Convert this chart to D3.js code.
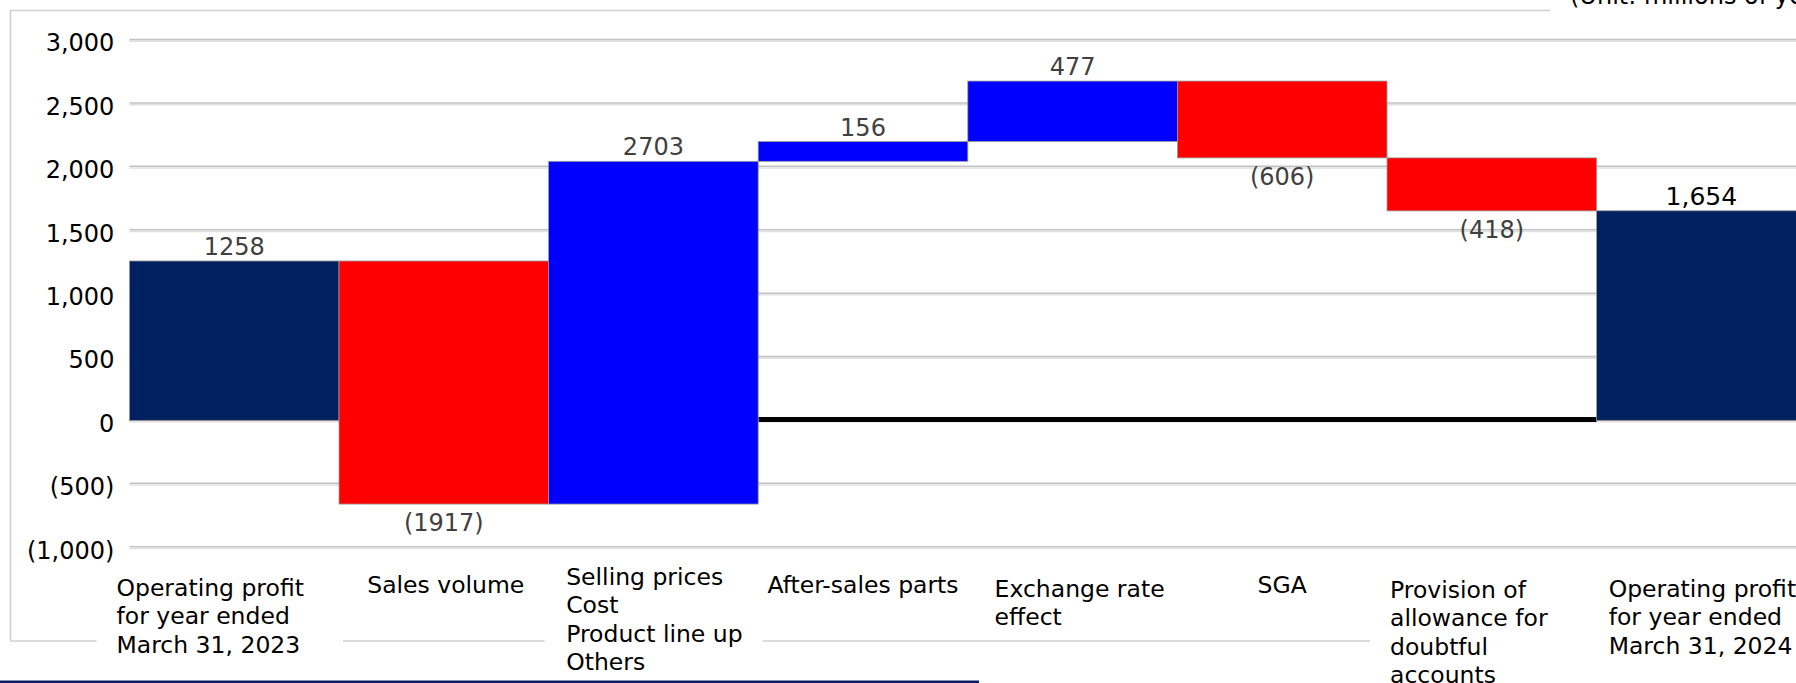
<!DOCTYPE html>
<html>
<head>
<meta charset="utf-8">
<script src="https://cdn.jsdelivr.net/npm/d3@7/dist/d3.min.js"></script>
<style>
  html, body { margin: 0; padding: 0; background: #ffffff; overflow: hidden; }
  svg { display: block; font-family: "DejaVu Sans", Verdana, sans-serif; }
</style>
</head>
<body>
<svg id="chart" width="1796" height="683"></svg>
<script>
// ---------------- data ----------------
const categories = [
  ["Operating profit", "for year ended", "March 31, 2023"],
  ["Sales volume"],
  ["Selling prices", "Cost", "Product line up", "Others"],
  ["After-sales parts"],
  ["Exchange rate", "effect"],
  ["SGA"],
  ["Provision of", "allowance for", "doubtful", "accounts"],
  ["Operating profit", "for year ended", "March 31, 2024"]
];
const values = [1258, -1917, 2703, 156, 477, -606, -418, 1654];
const barTypes = ["total", "decrease", "increase", "increase", "increase", "decrease", "decrease", "total"];
const valueLabels = ["1258", "(1917)", "2703", "156", "477", "(606)", "(418)", "1,654"];
const yTicks = [-1000, -500, 0, 500, 1000, 1500, 2000, 2500, 3000];
const yTickLabels = ["(1,000)", "(500)", "0", "500", "1,000", "1,500", "2,000", "2,500", "3,000"];
const unitLabel = "(Unit: millions of yen)";

// ---------------- layout / style ----------------
const W = 1796, H = 683;
const plotLeft = 129.4, bandW = 209.6;
const yTop = 40.1, yBottom = 547.3;
const colors = { total: "#002060", increase: "#0000FF", decrease: "#FF0000" };
const labelNudgeX = [-24, 2, 1, 0, 7, 0, -23, 1];
const labelFirstLineY = [587, 584, 576, 584, 588, 584, 589, 588];
const lineGap = 28.6;
const catFont = 23.5;

const svg = d3.select("#chart");
svg.append("rect").attr("width", W).attr("height", H).attr("fill", "#fff");

const x = d3.scaleBand()
  .domain(d3.range(categories.length))
  .range([plotLeft, plotLeft + bandW * categories.length])
  .padding(0);
const y = d3.scaleLinear().domain([-1000, 3000]).range([yBottom, yTop]);

// waterfall spans
let cum = 0;
const bars = values.map((v, i) => {
  let y0, y1;
  if (barTypes[i] === "total") { y0 = 0; y1 = v; cum = v; }
  else { y0 = cum; y1 = cum + v; cum = y1; }
  return { i, v, y0, y1, type: barTypes[i], label: valueLabels[i] };
});

// outer frame
svg.append("path")
  .attr("d", `M10.5,641 V10.5 H1550`)
  .attr("fill", "none").attr("stroke", "#d0d0d0").attr("stroke-width", 1.5);
svg.append("line")
  .attr("x1", 10.5).attr("x2", W).attr("y1", 641).attr("y2", 641)
  .attr("stroke", "#d0d0d0").attr("stroke-width", 1.5);

// unit label (cut off at top)
svg.append("text")
  .attr("x", 1570).attr("y", 4)
  .attr("font-size", 24).attr("fill", "#000")
  .text(unitLabel);

// gridlines
const grid = svg.append("g");
grid.selectAll("line.g1").data(yTicks).join("line")
  .attr("class", "g1")
  .attr("x1", plotLeft).attr("x2", W)
  .attr("y1", d => y(d) - 0.5).attr("y2", d => y(d) - 0.5)
  .attr("stroke", "#c2c2c2").attr("stroke-width", 1.6);
grid.selectAll("line.g2").data(yTicks).join("line")
  .attr("class", "g2")
  .attr("x1", plotLeft).attr("x2", W)
  .attr("y1", d => y(d) + 1.2).attr("y2", d => y(d) + 1.2)
  .attr("stroke", "#e0e0e0").attr("stroke-width", 1.4);

// y axis labels
const yAxis = d3.axisLeft(y)
  .tickValues(yTicks)
  .tickFormat((d, i) => yTickLabels[i])
  .tickSize(0).tickPadding(15);
const gy = svg.append("g").attr("transform", `translate(${plotLeft},0)`).call(yAxis);
gy.select(".domain").remove();
gy.selectAll("text")
  .attr("font-family", "DejaVu Sans, Verdana, sans-serif")
  .attr("font-size", 24).attr("fill", "#000").attr("dy", "0.45em");

// black zero segment
svg.append("line")
  .attr("x1", x(3)).attr("x2", x(7))
  .attr("y1", y(0) - 1).attr("y2", y(0) - 1)
  .attr("stroke", "#000").attr("stroke-width", 5);

// bars
svg.append("g").selectAll("rect").data(bars).join("rect")
  .attr("x", d => x(d.i))
  .attr("width", x.bandwidth())
  .attr("y", d => y(Math.max(d.y0, d.y1)))
  .attr("height", d => Math.abs(y(d.y0) - y(d.y1)))
  .attr("fill", d => colors[d.type])
  .attr("stroke", "#9a9a9a").attr("stroke-width", 0.8);

// value labels
svg.append("g").selectAll("text").data(bars).join("text")
  .attr("x", d => x(d.i) + x.bandwidth() / 2)
  .attr("y", d => d.v >= 0 ? y(Math.max(d.y0, d.y1)) - 6 : y(Math.min(d.y0, d.y1)) + 27)
  .attr("text-anchor", "middle")
  .attr("font-size", d => d.i === 7 ? 25 : 24)
  .attr("fill", d => d.i === 7 ? "#000" : "#404040")
  .text(d => d.label);

// category labels with white boxes (boxes first, then texts)
const boxG = svg.append("g");
const catG = svg.append("g");
const measure = svg.append("text").attr("font-size", catFont).attr("visibility", "hidden");
categories.forEach((lines, i) => {
  const widths = lines.map(l => { measure.text(l); return measure.node().getComputedTextLength(); });
  const maxW = d3.max(widths);
  const cx = x(i) + x.bandwidth() / 2;
  const startX = cx - maxW / 2 + labelNudgeX[i];
  const bx0 = Math.min(startX - 20, x(i) - 4);
  const bx1 = Math.max(startX + maxW + 20, x(i) + x.bandwidth() + 4);
  const top = labelFirstLineY[i] - 14;
  const bottom = labelFirstLineY[i] + (lines.length - 1) * lineGap + 14;
  boxG.append("rect")
    .attr("x", bx0).attr("y", top)
    .attr("width", bx1 - bx0).attr("height", bottom - top)
    .attr("fill", "#fff");
  const t = catG.append("text")
    .attr("font-size", catFont).attr("fill", "#000");
  lines.forEach((l, k) => {
    t.append("tspan")
      .attr("x", startX)
      .attr("y", labelFirstLineY[i] + k * lineGap + 8.5)
      .text(l);
  });
});
measure.remove();

// navy rule at bottom
svg.append("line")
  .attr("x1", 0).attr("x2", 979).attr("y1", 681.8).attr("y2", 681.8)
  .attr("stroke", "#0f1c63").attr("stroke-width", 2.6);
</script>
</body>
</html>
